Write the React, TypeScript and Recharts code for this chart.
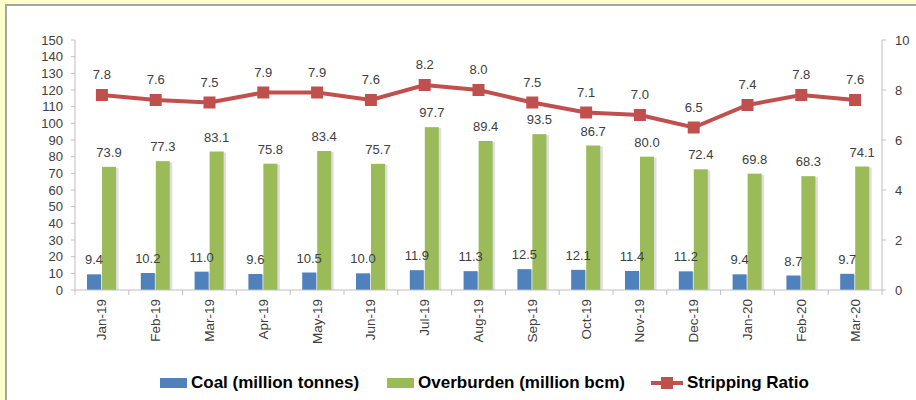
import React from 'react';
import { Bar, ComposedChart, LabelList, Legend, Line, XAxis, YAxis } from 'recharts';

const months = [
  'Jan-19', 'Feb-19', 'Mar-19', 'Apr-19', 'May-19', 'Jun-19', 'Jul-19', 'Aug-19',
  'Sep-19', 'Oct-19', 'Nov-19', 'Dec-19', 'Jan-20', 'Feb-20', 'Mar-20',
];
const coal = [9.4, 10.2, 11.0, 9.6, 10.5, 10.0, 11.9, 11.3, 12.5, 12.1, 11.4, 11.2, 9.4, 8.7, 9.7];
const overburden = [73.9, 77.3, 83.1, 75.8, 83.4, 75.7, 97.7, 89.4, 93.5, 86.7, 80.0, 72.4, 69.8, 68.3, 74.1];
const strippingRatio = [7.8, 7.6, 7.5, 7.9, 7.9, 7.6, 8.2, 8.0, 7.5, 7.1, 7.0, 6.5, 7.4, 7.8, 7.6];
const leftTicks = [0, 10, 20, 30, 40, 50, 60, 70, 80, 90, 100, 110, 120, 130, 140, 150];
const rightTicks = [0, 2, 4, 6, 8, 10];

const data = months.map((m, i) => ({
  month: m,
  coal: coal[i],
  ob: overburden[i],
  ratio: strippingRatio[i],
}));

const FONT = '"Liberation Sans", Arial, sans-serif';
const BLUE = '#4F81BD';
const GREEN = '#9BBB59';
const RED = '#C0504D';
const AXIS = '#BFBFBF';
const TEXT = '#404040';

const PLOT_W = 807;
const STEP = PLOT_W / months.length;

const ShadowBar = (props: any) => {
  const { x, y, width, height, fill } = props;
  if (height == null || height <= 0) return null;
  return (
    <g>
      <rect x={x + 1.5} y={y + 1} width={width + 1} height={height - 1} fill="#000" opacity={0.13} />
      <rect x={x} y={y} width={width} height={height} fill={fill} />
    </g>
  );
};

const SquareDot = (props: any) => {
  const { cx, cy } = props;
  if (cx == null || cy == null) return null;
  return <rect x={cx - 6} y={cy - 6} width={12} height={12} fill={RED} />;
};

const MonthTick = (props: any) => {
  const { x, y, payload, index } = props;
  const left = x - STEP / 2;
  return (
    <g>
      <line x1={left} x2={left} y1={y - 8} y2={y - 3} stroke={AXIS} />
      {index === months.length - 1 && (
        <line x1={x + STEP / 2} x2={x + STEP / 2} y1={y - 8} y2={y - 3} stroke={AXIS} />
      )}
      <text
        x={x}
        y={y + 1}
        transform={`rotate(-90, ${x}, ${y + 1})`}
        textAnchor="end"
        dominantBaseline="central"
        fontSize={13.5}
        fontFamily={FONT}
        fill={TEXT}
      >
        {payload.value}
      </text>
    </g>
  );
};

const fmt = (v: any) => Number(v).toFixed(1);

const LegendContent = () => {
  const item = (icon: React.ReactNode, label: string, gap: number) => (
    <div style={{ display: 'flex', alignItems: 'center', marginRight: gap }}>
      {icon}
      <span style={{ fontFamily: FONT, fontWeight: 700, fontSize: 17, color: '#000', marginLeft: 4 }}>{label}</span>
    </div>
  );
  return (
    <div style={{ display: 'flex', alignItems: 'center' }}>
      {item(<div style={{ width: 27, height: 10, background: BLUE }} />, 'Coal (million tonnes)', 28)}
      {item(<div style={{ width: 27, height: 10, background: GREEN }} />, 'Overburden (million bcm)', 26)}
      {item(
        <svg width={32} height={14}>
          <line x1={0} x2={32} y1={7} y2={7} stroke={RED} strokeWidth={4} />
          <rect x={10} y={1} width={12} height={12} fill={RED} />
        </svg>,
        'Stripping Ratio',
        0,
      )}
    </div>
  );
};

export default function App() {
  return (
    <div
      style={{
        position: 'absolute',
        left: 0,
        top: 0,
        width: 916,
        height: 400,
        overflow: 'hidden',
        background: '#FFFFCC',
      }}
    >
      <div
        style={{
          position: 'absolute',
          left: 5,
          top: 4,
          width: 940,
          height: 420,
          background: '#fff',
          borderLeft: '2px solid #A6A6A6',
          borderTop: '2px solid #A6A6A6',
        }}
      />
      <div style={{ position: 'absolute', left: 0, top: 0 }}>
        <ComposedChart
          width={916}
          height={400}
          data={data}
          margin={{ top: 40, right: 0, bottom: 40, left: 0 }}
          barGap={1}
        >
          <XAxis
            dataKey="month"
            yAxisId="left"
            interval={0}
            height={70}
            tickLine={false}
            axisLine={{ stroke: AXIS }}
            tick={<MonthTick />}
          />
          <YAxis
            yAxisId="left"
            domain={[0, 150]}
            ticks={leftTicks}
            interval={0}
            width={75}
            tickSize={4}
            tickMargin={8}
            axisLine={{ stroke: AXIS }}
            tickLine={{ stroke: AXIS }}
            tick={{ fontSize: 13, fontFamily: FONT, fill: TEXT }}
          />
          <YAxis
            yAxisId="right"
            orientation="right"
            domain={[0, 10]}
            ticks={rightTicks}
            interval={0}
            width={34}
            tickSize={4}
            tickMargin={9}
            axisLine={{ stroke: AXIS }}
            tickLine={{ stroke: AXIS }}
            tick={{ fontSize: 13, fontFamily: FONT, fill: TEXT }}
          />
          <Legend
            layout="horizontal"
            verticalAlign="middle"
            align="center"
            content={<LegendContent />}
            wrapperStyle={{ position: 'absolute', top: 373, left: 160, width: 700, height: 20 }}
          />
          <Bar
            yAxisId="left"
            dataKey="coal"
            name="Coal (million tonnes)"
            fill={BLUE}
            barSize={14}
            shape={<ShadowBar />}
            isAnimationActive={false}
          >
            <LabelList dataKey="coal" position="top" offset={10} formatter={fmt} fontSize={13} fontFamily={FONT} fill={TEXT} />
          </Bar>
          <Bar
            yAxisId="left"
            dataKey="ob"
            name="Overburden (million bcm)"
            fill={GREEN}
            barSize={14}
            shape={<ShadowBar />}
            isAnimationActive={false}
          >
            <LabelList dataKey="ob" position="top" offset={10} formatter={fmt} fontSize={13} fontFamily={FONT} fill={TEXT} />
          </Bar>
          <Line
            yAxisId="right"
            dataKey="ratio"
            name="Stripping Ratio"
            stroke={RED}
            strokeWidth={4}
            dot={<SquareDot />}
            activeDot={false}
            isAnimationActive={false}
          >
            <LabelList dataKey="ratio" position="top" offset={16} formatter={fmt} fontSize={13} fontFamily={FONT} fill={TEXT} />
          </Line>
        </ComposedChart>
      </div>
    </div>
  );
}
